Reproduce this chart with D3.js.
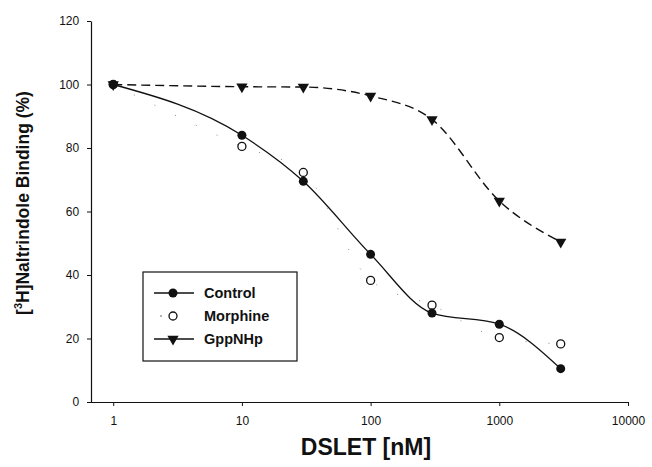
<!DOCTYPE html>
<html><head><meta charset="utf-8">
<script src="https://cdn.jsdelivr.net/npm/d3@7"></script>
<style>body{margin:0;background:#fff}svg{display:block}text{font-family:"Liberation Sans",Arial,sans-serif;fill:#111}</style>
</head><body>
<svg id="c" width="652" height="467"></svg>
<script>
const doses = [1, 10, 30, 100, 300, 1000, 3000];
const control = [100, 84, 69.5, 46.5, 28, 24.5, 10.5];
const morphine = [100, 80.5, 72.3, 38.3, 30.5, 20.3, 18.3];
const gppnhp = [100, 99.3, 99.2, 96.4, 89, 63.3, 50.4];
const xTicks = [1, 10, 100, 1000, 10000];
const yTicks = [0, 20, 40, 60, 80, 100, 120];
const seriesNames = ["Control", "Morphine", "GppNHp"];

const svg = d3.select("#c");
const x = d3.scaleLog().domain([0.66, 10000]).range([90, 628]);
const y = d3.scaleLinear().domain([0, 120]).range([402, 21]);

const ink = "#111";
const gx = svg.append("g").attr("transform", "translate(0,402)")
  .call(d3.axisBottom(x).tickValues(xTicks).tickFormat(d3.format("d")).tickSize(4).tickSizeOuter(0));
const gy = svg.append("g").attr("transform", "translate(91,0)")
  .call(d3.axisLeft(y).tickValues(yTicks).tickSize(4).tickSizeOuter(0));
[gx, gy].forEach(g => {
  g.select(".domain").attr("stroke", ink).attr("stroke-width", 1.2);
  g.selectAll(".tick line").attr("stroke", ink);
  g.selectAll(".tick text").attr("font-size", 12).attr("fill", ink).style("font-family", '"Liberation Sans",Arial,sans-serif');
});
gx.selectAll(".tick text").attr("dy", "1.3em");
gy.selectAll(".tick text").attr("dx", "-0.4em");

svg.append("text").attr("x", 366).attr("y", 455).attr("text-anchor", "middle")
  .attr("font-size", 23).attr("font-weight", "bold").text("DSLET [nM]");
const yt = svg.append("text").attr("transform", "translate(29,203) rotate(-90)")
  .attr("text-anchor", "middle").attr("font-size", 17.5).attr("font-weight", "bold");
yt.append("tspan").text("[");
yt.append("tspan").attr("font-size", 11).attr("dy", -7).text("3");
yt.append("tspan").attr("dy", 7).text("H]Naltrindole Binding (%)");

const toPts = vals => doses.map((d, i) => [x(d), y(vals[i])]);
const mono = d3.line().curve(d3.curveMonotoneX);

svg.append("path").attr("d", mono(toPts(control))).attr("fill", "none").attr("stroke", ink).attr("stroke-width", 1.3);
svg.append("path").attr("d", mono(toPts(morphine))).attr("fill", "none").attr("stroke", "#888").attr("stroke-width", 1).attr("stroke-dasharray", "1,22");
svg.append("path").attr("d", mono(toPts(gppnhp))).attr("fill", "none").attr("stroke", ink).attr("stroke-width", 1.4).attr("stroke-dasharray", "9,5");

const tri = d3.symbol().type(d3.symbolTriangle).size(55);
function drawMarker(g, kind, cx, cy) {
  if (kind === 0) g.append("circle").attr("cx", cx).attr("cy", cy).attr("r", 4.5).attr("fill", ink);
  else if (kind === 1) g.append("circle").attr("cx", cx).attr("cy", cy).attr("r", 4).attr("fill", "#fff").attr("stroke", ink).attr("stroke-width", 1.3);
  else g.append("path").attr("d", tri()).attr("transform", `translate(${cx},${cy}) rotate(180)`).attr("fill", ink);
}
const mg = svg.append("g");
toPts(gppnhp).forEach(p => drawMarker(mg, 2, p[0], p[1]));
toPts(morphine).forEach(p => drawMarker(mg, 1, p[0], p[1]));
toPts(control).forEach(p => drawMarker(mg, 0, p[0], p[1]));

const lg = svg.append("g");
lg.append("rect").attr("x", 143).attr("y", 272).attr("width", 154).attr("height", 89)
  .attr("fill", "#fff").attr("stroke", ink).attr("stroke-width", 1.2);
const ly = [293, 316, 339];
seriesNames.forEach((n, i) => {
  if (i === 0) lg.append("line").attr("x1", 154).attr("x2", 194).attr("y1", ly[i]).attr("y2", ly[i]).attr("stroke", ink).attr("stroke-width", 1.3);
  if (i === 1) lg.append("circle").attr("cx", 161).attr("cy", ly[i]).attr("r", 0.8).attr("fill", "#555");
  if (i === 2) lg.append("line").attr("x1", 154).attr("x2", 194).attr("y1", ly[i]).attr("y2", ly[i]).attr("stroke", ink).attr("stroke-width", 1.3);
  drawMarker(lg, i, 173, ly[i]);
  lg.append("text").attr("x", 204).attr("y", ly[i] + 5).attr("font-size", 14.5).attr("font-weight", "bold").text(n);
});
</script>
</body></html>
